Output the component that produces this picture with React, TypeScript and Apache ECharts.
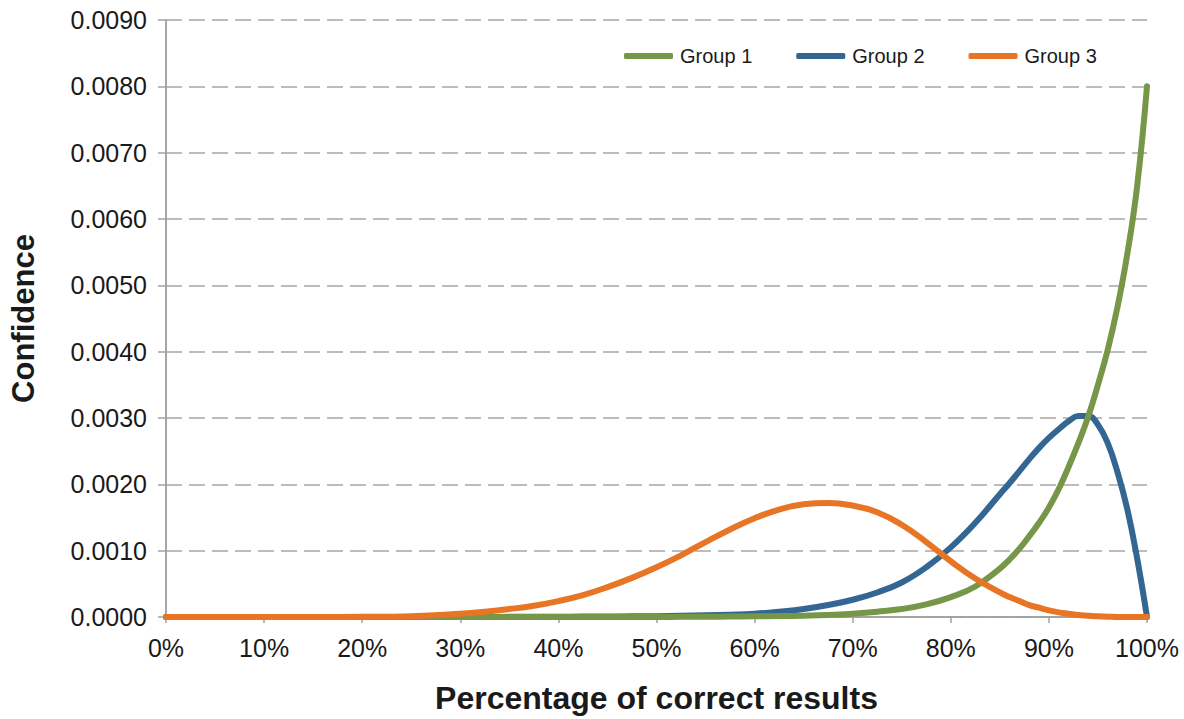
import React, { useEffect, useRef } from "react";
import * as echarts from "echarts";

const xPercent = [0, 5, 10, 15, 20, 25, 30, 32.5, 35, 37.5, 40, 42.5, 45, 47.5, 50, 52.5, 55, 57.5, 60, 62.5, 65, 67.5, 70, 72.5, 75, 77.5, 80, 82.5, 85, 86, 87, 88, 89, 90, 91, 92, 93, 94, 95, 96, 97, 98, 99, 100];

const group1 = [0, 0, 0, 0, 0, 0, 0, 0, 0, 0, 0, 0, 0, 0, 0.000001, 0.000002, 0.000003, 0.000006, 0.00001, 0.000014, 0.00002, 0.00003, 0.00005, 0.00008, 0.00012, 0.00019, 0.0003, 0.00046, 0.00073, 0.00087, 0.00103, 0.00122, 0.00142, 0.00165, 0.00193, 0.00226, 0.00262, 0.00302, 0.0035, 0.00403, 0.00468, 0.00548, 0.0065, 0.008];

const group2 = [0, 0, 0, 0, 0, 0, 0.000001, 0.000001, 0.000002, 0.000003, 0.000004, 0.000006, 0.000008, 0.00001, 0.000013, 0.000018, 0.000025, 0.000035, 0.00005, 0.00008, 0.00012, 0.00018, 0.00026, 0.00037, 0.00052, 0.00075, 0.00105, 0.00142, 0.00185, 0.00202, 0.0022, 0.00238, 0.00255, 0.0027, 0.00283, 0.00295, 0.00303, 0.00303, 0.0029, 0.00262, 0.00218, 0.00162, 0.00088, 0];

const group3 = [0, 0, 0, 0, 0.000002, 0.000012, 0.00005, 0.00008, 0.00012, 0.00017, 0.00024, 0.00033, 0.00045, 0.00059, 0.00075, 0.00093, 0.00113, 0.00132, 0.00149, 0.00162, 0.0017, 0.00172, 0.00168, 0.00158, 0.00139, 0.00113, 0.00084, 0.00058, 0.00037, 0.0003, 0.00024, 0.00018, 0.00014, 0.0001, 0.00007, 0.00005, 0.00003, 0.00002, 0.00001, 0.000005, 0, 0, 0, 0];

const seriesNames = ["Group 1", "Group 2", "Group 3"];
const seriesColors = ["#769648", "#346694", "#E87526"];
const seriesZ = [3, 2, 4];

const yMin = 0;
const yMax = 0.009;
const yStep = 0.001;
const xMin = 0;
const xMax = 100;
const xStep = 10;

const FONT = "'Liberation Sans', Arial, sans-serif";
const AXIS_GREY = "#A0A0A0";

export default function App() {
  const ref = useRef<HTMLDivElement>(null);

  useEffect(() => {
    if (!ref.current) return;
    const chart = echarts.init(ref.current, null, { renderer: "svg" });
    const allData = [group1, group2, group3];
    const series = allData.map((vals, i) => ({
      name: seriesNames[i],
      type: "line",
      data: xPercent.map((x, j) => [x, vals[j]]),
      showSymbol: false,
      symbol: "none",
      smooth: 0.45,
      z: seriesZ[i],
      color: seriesColors[i],
      lineStyle: { color: seriesColors[i], width: 6, cap: "round", join: "round" },
      xAxisIndex: 0,
      yAxisIndex: 0,
    }));

    chart.setOption({
      animation: false,
      backgroundColor: "#ffffff",
      textStyle: { fontFamily: FONT },
      grid: { left: 163, right: 37, top: 20, bottom: 99, containLabel: false },
      legend: {
        data: seriesNames,
        left: 619,
        top: 41,
        icon: "roundRect",
        itemWidth: 49,
        itemHeight: 6,
        itemGap: 44,
        textStyle: { fontFamily: FONT, fontSize: 20, color: "#1a1a1a", padding: [0, 0, 0, 2] },
      },
      xAxis: [
        {
          type: "value",
          min: xMin,
          max: xMax,
          interval: xStep,
          name: "Percentage of correct results",
          nameLocation: "middle",
          nameGap: 65,
          nameTextStyle: { fontFamily: FONT, fontSize: 32, fontWeight: "bold", color: "#1a1a1a" },
          axisLine: { show: true, lineStyle: { color: AXIS_GREY, width: 1.5 } },
          axisTick: { show: true, length: 6, lineStyle: { color: AXIS_GREY, width: 1.5 } },
          axisLabel: {
            margin: 18,
            fontFamily: FONT,
            fontSize: 25,
            color: "#1a1a1a",
            formatter: (v: number) => `${Math.round(v)}%`,
          },
          splitLine: { show: false },
        },
        {
          type: "value",
          position: "top",
          min: xMin,
          max: xMax,
          interval: xStep,
          axisLine: { show: true, lineStyle: { color: AXIS_GREY, width: 1.5 } },
          axisTick: { show: false },
          axisLabel: { show: false },
          splitLine: { show: false },
        },
      ],
      yAxis: [
        {
          type: "value",
          min: yMin,
          max: yMax,
          interval: yStep,
          name: "Confidence",
          nameLocation: "middle",
          nameGap: 127,
          nameTextStyle: { fontFamily: FONT, fontSize: 31, fontWeight: "bold", color: "#1a1a1a" },
          axisLine: { show: true, lineStyle: { color: AXIS_GREY, width: 1.5 } },
          axisTick: { show: true, length: 8, lineStyle: { color: AXIS_GREY, width: 1.5 } },
          axisLabel: {
            margin: 19,
            fontFamily: FONT,
            fontSize: 25,
            color: "#1a1a1a",
            formatter: (v: number) => v.toFixed(4),
          },
          splitLine: { show: true, lineStyle: { color: "#A6A6A6", width: 1.5, type: [16, 7] } },
        },
        {
          type: "value",
          position: "right",
          min: yMin,
          max: yMax,
          interval: yStep,
          axisLine: { show: true, lineStyle: { color: AXIS_GREY, width: 1.5 } },
          axisTick: { show: false },
          axisLabel: { show: false },
          splitLine: { show: false },
        },
      ],
      series,
    });

    return () => {
      chart.dispose();
    };
  }, []);

  return (
    <div
      ref={ref}
      style={{ position: "fixed", left: 0, top: 0, width: 1184, height: 719, background: "#fff" }}
    />
  );
}
